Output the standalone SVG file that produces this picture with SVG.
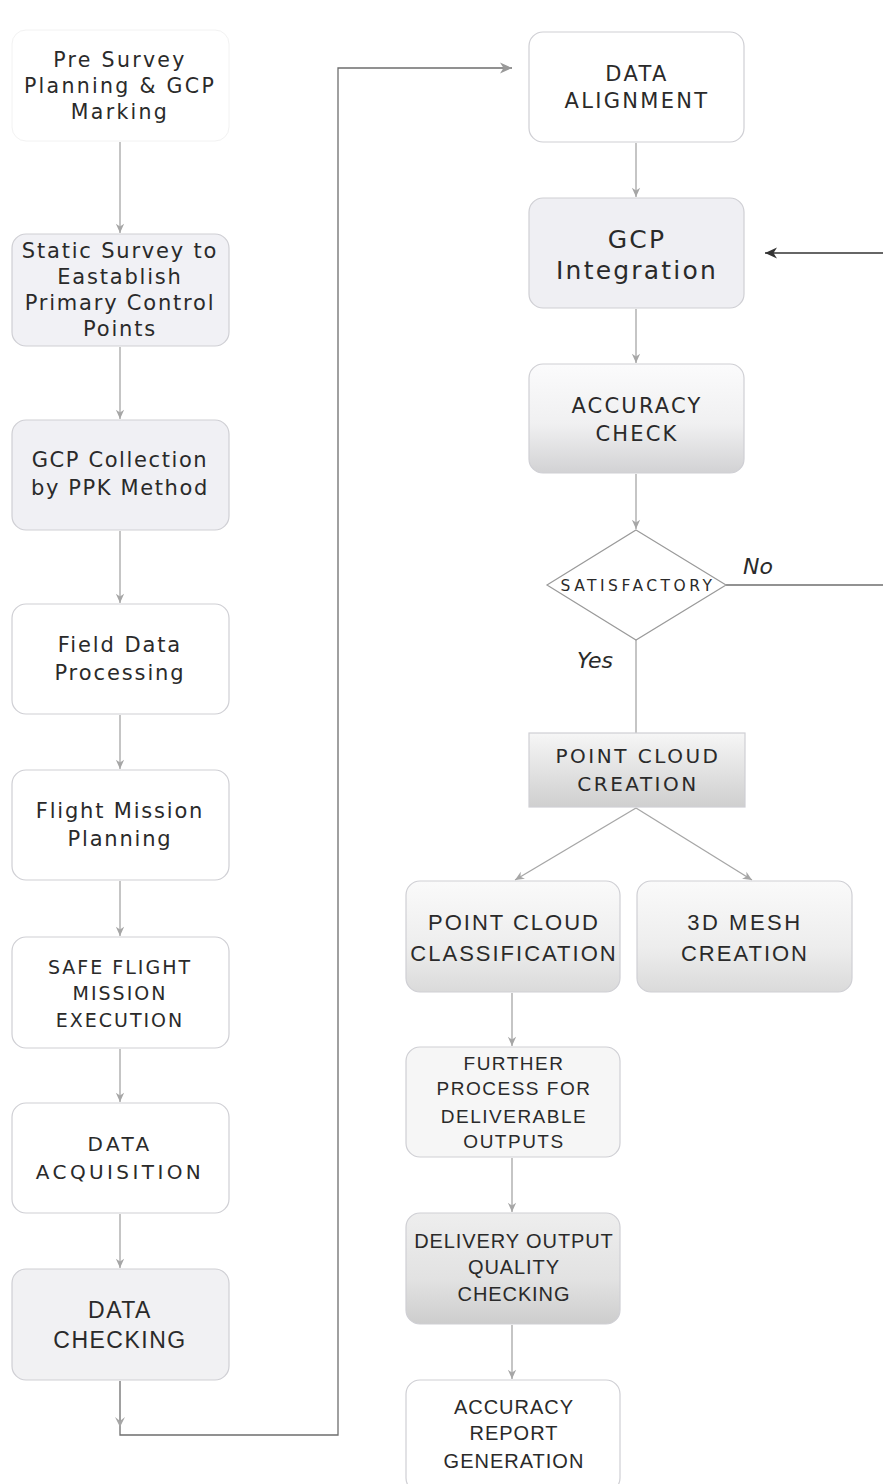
<svg xmlns="http://www.w3.org/2000/svg" width="883" height="1484" viewBox="0 0 883 1484">
<style>
.box{stroke:#cfcfd4;stroke-width:1.2}
.v{font-family:"DejaVu Sans",Verdana,sans-serif;fill:#2a2a2a;text-anchor:middle}
.a{font-family:"Liberation Sans",Arial,sans-serif;fill:#2a2a2a;text-anchor:middle}
.c{fill:none;stroke:#a6a6a6;stroke-width:1.3}
.cd{fill:none;stroke:#6e6e6e;stroke-width:1.3}
.ck{fill:none;stroke:#333;stroke-width:1.4}
.it{font-family:"DejaVu Sans",Verdana,sans-serif;font-style:italic;fill:#2a2a2a;font-size:22px}
</style>
<defs>
<marker id="ah" viewBox="0 0 12 12" refX="11" refY="6" markerWidth="11" markerHeight="11" markerUnits="userSpaceOnUse" orient="auto">
<path d="M1,1.5 L11,6 L1,10.5 L4,6 Z" fill="#a6a6a6"/>
</marker>
<marker id="ahd" viewBox="0 0 14 14" refX="13" refY="7" markerWidth="14" markerHeight="14" markerUnits="userSpaceOnUse" orient="auto">
<path d="M1,1.5 L13,7 L1,12.5 L4.5,7 Z" fill="#999"/>
</marker>
<marker id="ahk" viewBox="0 0 14 14" refX="13" refY="7" markerWidth="14" markerHeight="14" markerUnits="userSpaceOnUse" orient="auto">
<path d="M1,1.5 L13,7 L1,12.5 L4.5,7 Z" fill="#333"/>
</marker>
<linearGradient id="gAcc" x1="0" y1="0" x2="0" y2="1"><stop offset="0" stop-color="#fbfbfc"/><stop offset="0.55" stop-color="#f0f0f1"/><stop offset="1" stop-color="#d2d2d4"/></linearGradient>
<linearGradient id="gPcc" x1="0" y1="0" x2="0" y2="1"><stop offset="0" stop-color="#f6f6f6"/><stop offset="1" stop-color="#cfcfcf"/></linearGradient>
<linearGradient id="gCls" x1="0" y1="0" x2="0" y2="1"><stop offset="0" stop-color="#fafafa"/><stop offset="0.6" stop-color="#ededed"/><stop offset="1" stop-color="#dadada"/></linearGradient>
<linearGradient id="gDel" x1="0" y1="0" x2="0" y2="1"><stop offset="0" stop-color="#eeeeee"/><stop offset="0.6" stop-color="#e2e2e2"/><stop offset="1" stop-color="#cdcdcd"/></linearGradient>
</defs>

<g id="connectors">
<path class="c" d="M120,142 V233" marker-end="url(#ah)"/>
<path class="c" d="M120,347 V419" marker-end="url(#ah)"/>
<path class="c" d="M120,531 V603" marker-end="url(#ah)"/>
<path class="c" d="M120,715 V769" marker-end="url(#ah)"/>
<path class="c" d="M120,881 V936" marker-end="url(#ah)"/>
<path class="c" d="M120,1049 V1102" marker-end="url(#ah)"/>
<path class="c" d="M120,1214 V1268" marker-end="url(#ah)"/>
<path class="cd" d="M120,1381 V1435 H338 V68 H512" marker-end="url(#ahd)"/>
<path d="M115,1417 L120,1427 L125,1417 L120,1421 Z" fill="#a6a6a6"/>
<path class="c" d="M636,143 V197" marker-end="url(#ah)"/>
<path class="c" d="M636,309 V363" marker-end="url(#ah)"/>
<path class="c" d="M636,474 V529" marker-end="url(#ah)"/>
<path class="cd" d="M726,585 H883"/>
<path class="ck" d="M883,253 H765" marker-end="url(#ahk)"/>
<path class="c" d="M636,640 V733"/>
<path class="c" d="M636,808 L515,880" marker-end="url(#ah)"/>
<path class="c" d="M636,808 L752,880" marker-end="url(#ah)"/>
<path class="c" d="M512,993 V1046" marker-end="url(#ah)"/>
<path class="c" d="M512,1158 V1212" marker-end="url(#ah)"/>
<path class="c" d="M512,1325 V1379" marker-end="url(#ah)"/>
<text class="it" x="743" y="574">No</text>
<text class="it" x="577" y="668">Yes</text>
</g>

<g id="n1">
<rect x="12" y="30" width="217" height="111" rx="14" fill="#ffffff" stroke="#f2f2f2" stroke-width="1"/>
<text class="v" font-size="20.5" letter-spacing="2.3" x="120" y="67">Pre Survey</text>
<text class="v" font-size="20.5" letter-spacing="2.3" x="120" y="93">Planning &amp; GCP</text>
<text class="v" font-size="20.5" letter-spacing="2.3" x="120" y="119">Marking</text>
</g>
<g id="n2">
<rect class="box" x="12" y="234" width="217" height="112" rx="14" fill="#f1f1f5"/>
<text class="v" font-size="21" letter-spacing="1.8" x="120" y="258">Static Survey to</text>
<text class="v" font-size="21" letter-spacing="1.8" x="120" y="284">Eastablish</text>
<text class="v" font-size="21" letter-spacing="1.8" x="120" y="310">Primary Control</text>
<text class="v" font-size="21" letter-spacing="1.8" x="120" y="336">Points</text>
</g>
<g id="n3">
<rect class="box" x="12" y="420" width="217" height="110" rx="14" fill="#f0f0f4"/>
<text class="v" font-size="21" letter-spacing="1.6" x="120" y="467">GCP Collection</text>
<text class="v" font-size="21" letter-spacing="1.6" x="120" y="495">by PPK Method</text>
</g>
<g id="n4">
<rect class="box" x="12" y="604" width="217" height="110" rx="14" fill="#ffffff"/>
<text class="v" font-size="21" letter-spacing="1.9" x="120" y="652">Field Data</text>
<text class="v" font-size="21" letter-spacing="1.9" x="120" y="680">Processing</text>
</g>
<g id="n5">
<rect class="box" x="12" y="770" width="217" height="110" rx="14" fill="#ffffff"/>
<text class="v" font-size="21" letter-spacing="1.8" x="120" y="818">Flight Mission</text>
<text class="v" font-size="21" letter-spacing="1.8" x="120" y="846">Planning</text>
</g>
<g id="n6">
<rect class="box" x="12" y="937" width="217" height="111" rx="14" fill="#ffffff"/>
<text class="v" font-size="19" letter-spacing="2" x="120" y="974">SAFE FLIGHT</text>
<text class="v" font-size="19" letter-spacing="2" x="120" y="1000">MISSION</text>
<text class="v" font-size="19" letter-spacing="2" x="120" y="1027">EXECUTION</text>
</g>
<g id="n7">
<rect class="box" x="12" y="1103" width="217" height="110" rx="14" fill="#ffffff"/>
<text class="v" font-size="20" letter-spacing="3.4" x="120" y="1151">DATA</text>
<text class="v" font-size="20" letter-spacing="3.4" x="120" y="1179">ACQUISITION</text>
</g>
<g id="n8">
<rect class="box" x="12" y="1269" width="217" height="111" rx="14" fill="#f1f1f3"/>
<text class="a" font-size="23" letter-spacing="1.5" x="120" y="1318">DATA</text>
<text class="a" font-size="23" letter-spacing="1.5" x="120" y="1348">CHECKING</text>
</g>

<g id="r1">
<rect class="box" x="529" y="32" width="215" height="110" rx="14" fill="#ffffff"/>
<text class="v" font-size="21" letter-spacing="2.3" x="637" y="81">DATA</text>
<text class="v" font-size="21" letter-spacing="2.3" x="637" y="108">ALIGNMENT</text>
</g>
<g id="r2">
<rect class="box" x="529" y="198" width="215" height="110" rx="14" fill="#efeff3"/>
<text class="v" font-size="25" letter-spacing="2.2" x="637" y="248">GCP</text>
<text class="v" font-size="25" letter-spacing="2.2" x="637" y="279">Integration</text>
</g>
<g id="r3">
<rect class="box" x="529" y="364" width="215" height="109" rx="14" fill="url(#gAcc)"/>
<text class="v" font-size="21" letter-spacing="2.2" x="637" y="413">ACCURACY</text>
<text class="v" font-size="21" letter-spacing="2.2" x="637" y="441">CHECK</text>
</g>
<g id="d1">
<polygon points="636,530 726,585 636,640 547,585" fill="#ffffff" stroke="#9a9a9a" stroke-width="1.2"/>
<text class="v" font-size="15.5" letter-spacing="3.5" x="638" y="591">SATISFACTORY</text>
</g>
<g id="r4">
<rect class="box" x="529" y="733" width="216" height="74" fill="url(#gPcc)" stroke="#bdbdbd"/>
<text class="v" font-size="20" letter-spacing="2.5" x="638" y="763">POINT CLOUD</text>
<text class="v" font-size="20" letter-spacing="2.5" x="638" y="791">CREATION</text>
</g>
<g id="r5">
<rect class="box" x="406" y="881" width="214" height="111" rx="14" fill="url(#gCls)"/>
<text class="a" font-size="22" letter-spacing="2" x="514" y="930">POINT CLOUD</text>
<text class="a" font-size="22" letter-spacing="2" x="514" y="961">CLASSIFICATION</text>
</g>
<g id="r6">
<rect class="box" x="637" y="881" width="215" height="111" rx="14" fill="url(#gCls)"/>
<text class="a" font-size="22" letter-spacing="2.5" x="745" y="930">3D MESH</text>
<text class="a" font-size="22" letter-spacing="2" x="745" y="961">CREATION</text>
</g>
<g id="r7">
<rect class="box" x="406" y="1047" width="214" height="110" rx="14" fill="#f6f6f6"/>
<text class="a" font-size="19" letter-spacing="1.5" x="514" y="1070">FURTHER</text>
<text class="a" font-size="19" letter-spacing="1.5" x="514" y="1095">PROCESS FOR</text>
<text class="a" font-size="19" letter-spacing="1.5" x="514" y="1123">DELIVERABLE</text>
<text class="a" font-size="19" letter-spacing="1.5" x="514" y="1148">OUTPUTS</text>
</g>
<g id="r8">
<rect class="box" x="406" y="1213" width="214" height="111" rx="14" fill="url(#gDel)"/>
<text class="a" font-size="20" letter-spacing="0.9" x="514" y="1248">DELIVERY OUTPUT</text>
<text class="a" font-size="20" letter-spacing="0.9" x="514" y="1274">QUALITY</text>
<text class="a" font-size="20" letter-spacing="0.9" x="514" y="1301">CHECKING</text>
</g>
<g id="r9">
<rect class="box" x="406" y="1380" width="214" height="112" rx="14" fill="#ffffff"/>
<text class="a" font-size="20" letter-spacing="1" x="514" y="1414">ACCURACY</text>
<text class="a" font-size="20" letter-spacing="1" x="514" y="1440">REPORT</text>
<text class="a" font-size="20" letter-spacing="1" x="514" y="1468">GENERATION</text>
</g>
</svg>
